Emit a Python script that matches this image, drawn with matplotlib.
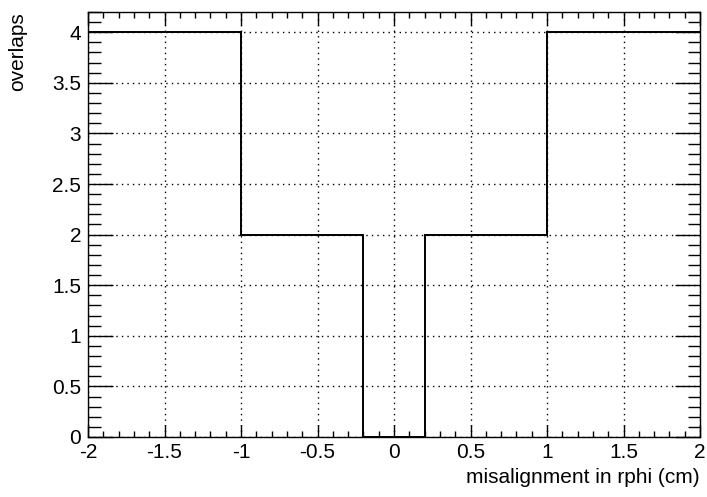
import matplotlib
matplotlib.use("Agg")
import matplotlib.pyplot as plt
from matplotlib.ticker import MultipleLocator, FuncFormatter

# Histogram contents: 20 bins of width 0.2 between -2 and 2
bin_edges = [-2.0, -1.8, -1.6, -1.4, -1.2, -1.0, -0.8, -0.6, -0.4, -0.2,
             0.0, 0.2, 0.4, 0.6, 0.8, 1.0, 1.2, 1.4, 1.6, 1.8, 2.0]
overlaps = [4, 4, 4, 4, 4, 2, 2, 2, 2, 0,
            0, 2, 2, 2, 2, 4, 4, 4, 4, 4]

x_ticks = [-2, -1.5, -1, -0.5, 0, 0.5, 1, 1.5, 2]
y_ticks = [0, 0.5, 1, 1.5, 2, 2.5, 3, 3.5, 4]

plt.rcParams['font.family'] = ['Liberation Sans', 'DejaVu Sans']
FS = 15

fig = plt.figure(figsize=(7.07, 4.97), dpi=100)
ax = fig.add_axes([88 / 707, 1 - 437 / 497, 612 / 707, 425 / 497])

ax.stairs(overlaps, bin_edges, color='black', linewidth=1.4, baseline=None)

ax.set_xlim(-2, 2)
ax.set_ylim(0, 4.2)

ax.set_xticks(x_ticks)
ax.set_yticks(y_ticks)
ax.xaxis.set_minor_locator(MultipleLocator(0.1))
ax.yaxis.set_minor_locator(MultipleLocator(0.1))

fmt = FuncFormatter(lambda v, p: f"{v:g}")
ax.xaxis.set_major_formatter(fmt)
ax.yaxis.set_major_formatter(fmt)

ax.tick_params(axis='both', which='both', direction='in', top=True, right=True,
               labelsize=FS, width=1.0, colors='black')
ax.tick_params(axis='x', which='major', length=9, pad=4)
ax.tick_params(axis='x', which='minor', length=4.5)
ax.tick_params(axis='y', which='major', length=18, pad=5)
ax.tick_params(axis='y', which='minor', length=9)

ax.grid(True, which='major', color='black', linestyle=(0, (1, 3)), linewidth=1.0)

for s in ax.spines.values():
    s.set_linewidth(1.0)

ax.set_xlabel('misalignment in rphi (cm)', fontsize=FS, loc='right')
ax.xaxis.set_label_coords(1.0, -0.072)
ax.set_ylabel('overlaps', fontsize=FS, loc='top')
ax.yaxis.set_label_coords(-0.1, 1.0)

fig.savefig('out.png', dpi=100)
